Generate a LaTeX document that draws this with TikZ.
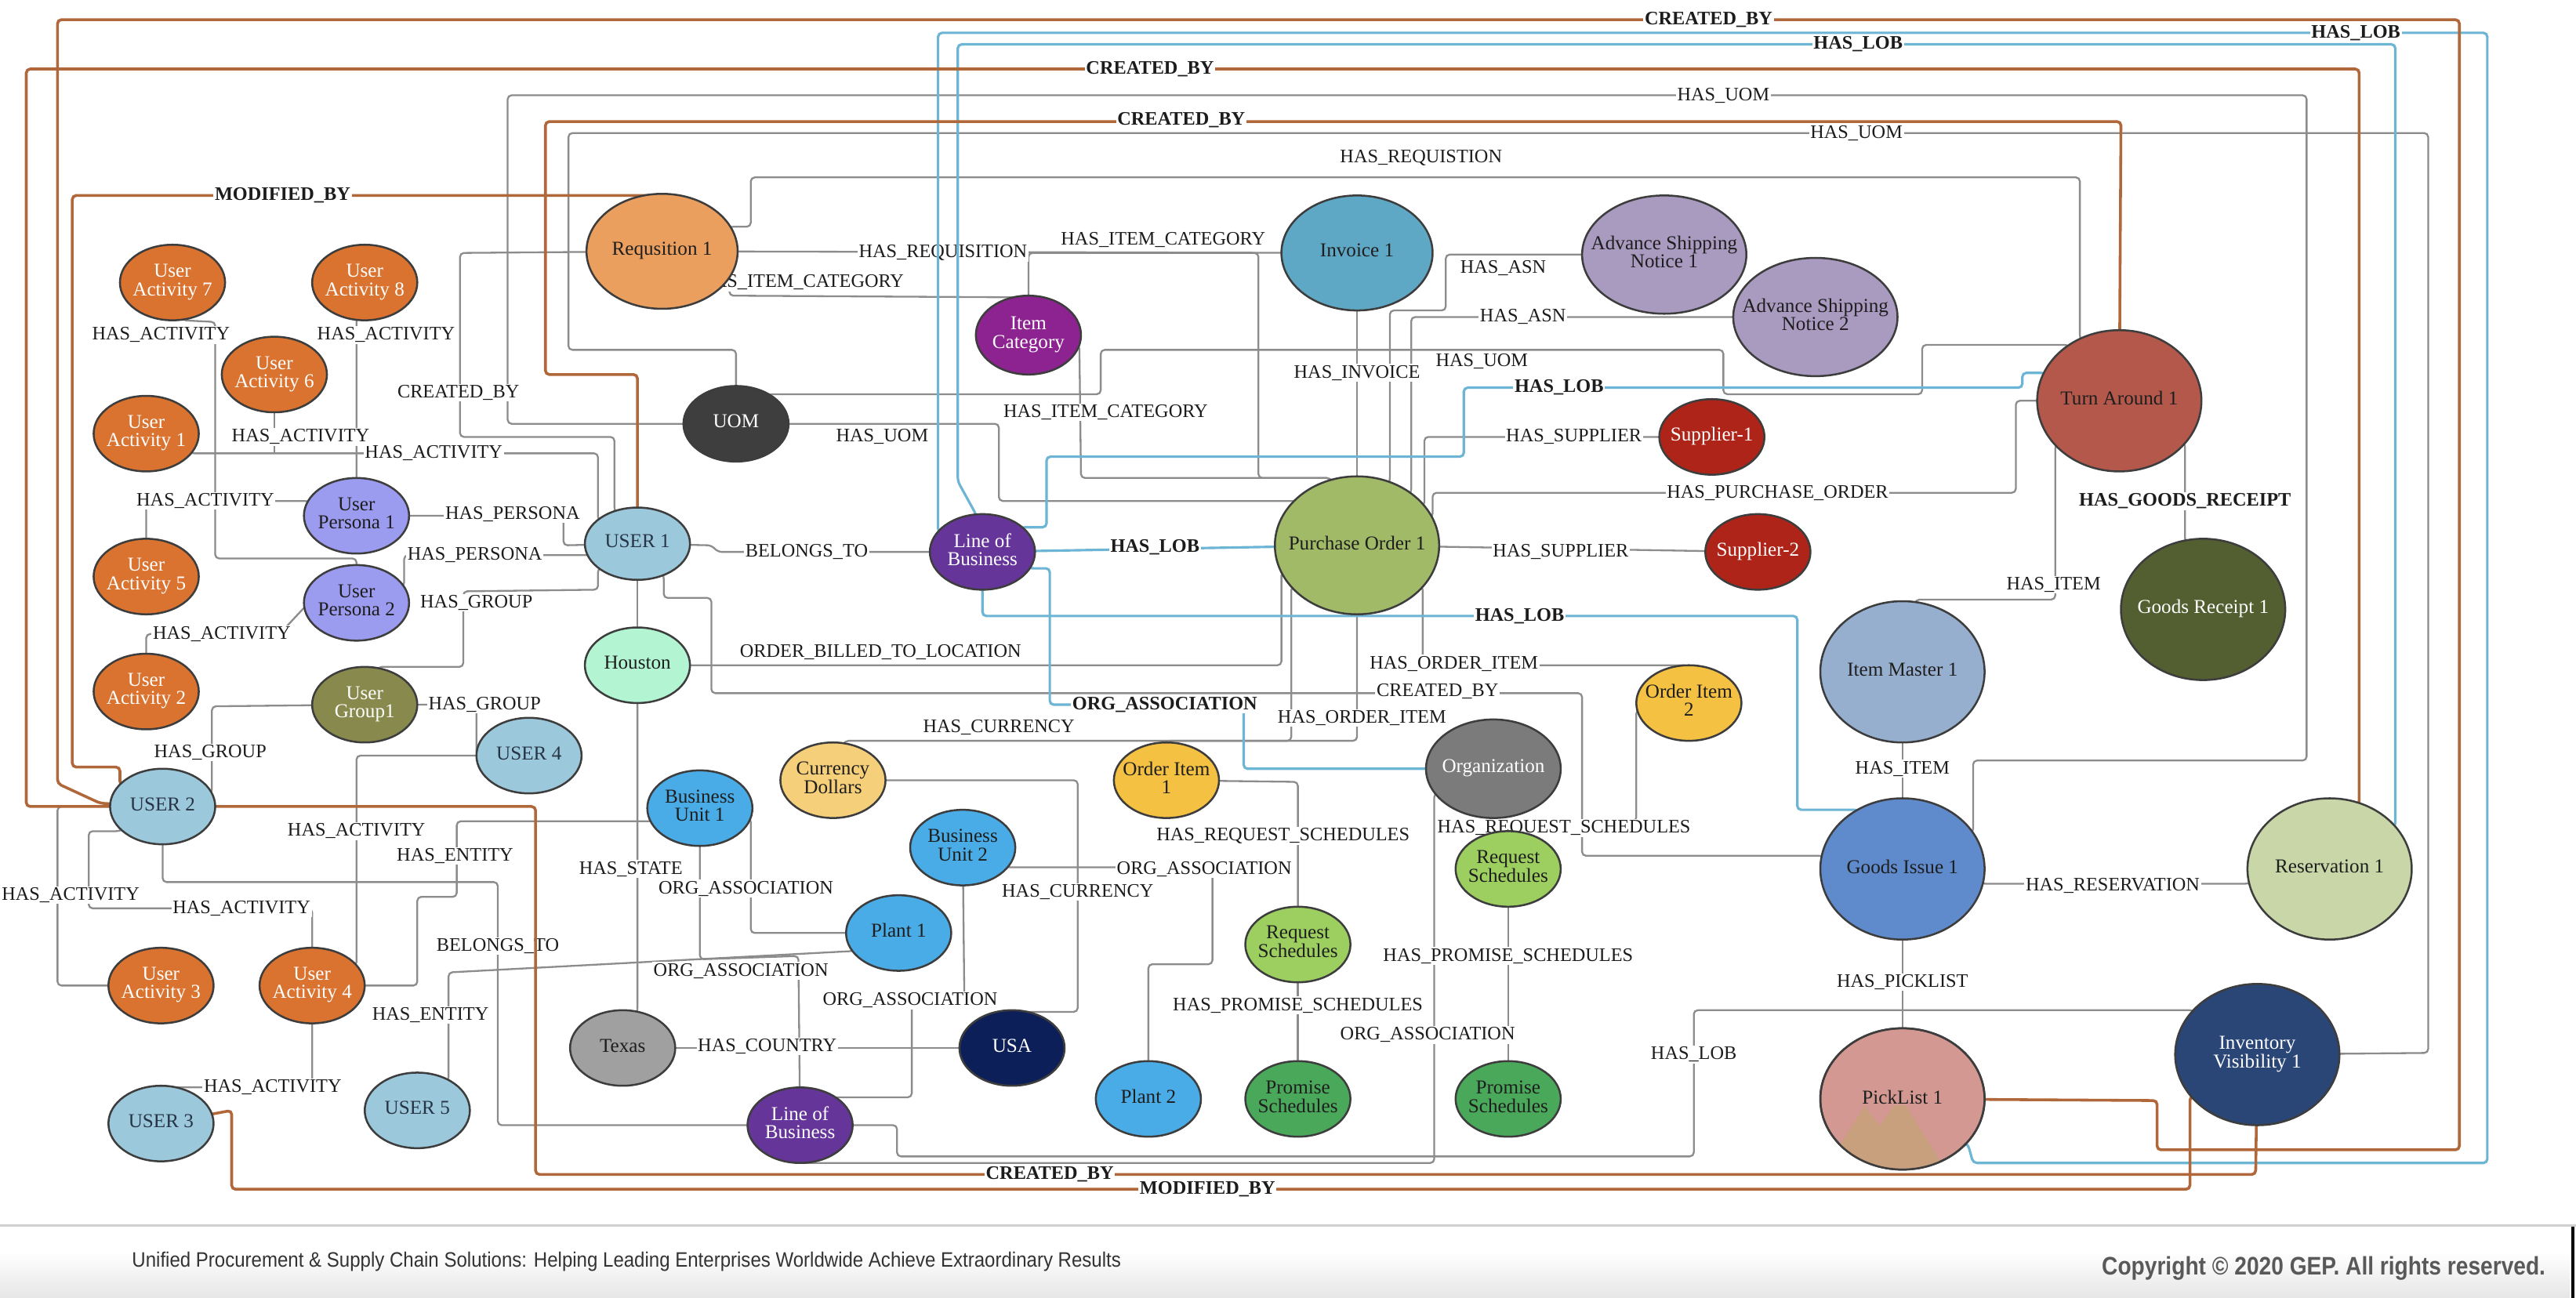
\documentclass[tikz,border=0pt]{standalone}
\usepackage{fontspec}
\setmainfont{Liberation Serif}
\newfontfamily\myFootfont{Liberation Sans}
\usetikzlibrary{shapes.geometric,backgrounds}
\definecolor{brn}{HTML}{B0673A}
\definecolor{blu}{HTML}{6DB5D5}
\definecolor{gry}{HTML}{8C8C8C}
\definecolor{ndline}{HTML}{3D3D3D}
\definecolor{lbtext}{HTML}{1C1C1C}
\definecolor{dkt}{HTML}{1E1E1E}
\definecolor{usrt}{HTML}{263445}
\definecolor{uaC}{HTML}{D9732F}
\definecolor{upC}{HTML}{9B9BF0}
\definecolor{userC}{HTML}{9CC8DC}
\definecolor{houC}{HTML}{B3F5D3}
\definecolor{ugC}{HTML}{878A4C}
\definecolor{reqC}{HTML}{EA9F5F}
\definecolor{uomC}{HTML}{3E3E3E}
\definecolor{icC}{HTML}{8C2391}
\definecolor{invC}{HTML}{5FA8C5}
\definecolor{asnC}{HTML}{A99AC0}
\definecolor{turnC}{HTML}{B3584B}
\definecolor{supC}{HTML}{AE2419}
\definecolor{poC}{HTML}{A1BA68}
\definecolor{lobC}{HTML}{65359A}
\definecolor{grC}{HTML}{535F30}
\definecolor{imC}{HTML}{97AFCF}
\definecolor{oiC}{HTML}{F4C142}
\definecolor{orgC}{HTML}{7B7B7B}
\definecolor{curC}{HTML}{F5CF79}
\definecolor{buC}{HTML}{4AACE6}
\definecolor{rsC}{HTML}{9DCF60}
\definecolor{psC}{HTML}{4AA85A}
\definecolor{giC}{HTML}{5F8ACC}
\definecolor{resC}{HTML}{C8D6A8}
\definecolor{texC}{HTML}{A0A0A0}
\definecolor{usaC}{HTML}{0C1F58}
\definecolor{ivC}{HTML}{2A4677}
\definecolor{pkC}{HTML}{D39891}
\definecolor{pktan}{HTML}{C8A07D}
\definecolor{footgray}{HTML}{D0D0D0}
\definecolor{foottext}{HTML}{333333}
\definecolor{copygray}{HTML}{595959}
\definecolor{shadeC}{HTML}{E6E6E6}
\newcommand{\myNfont}{\fontsize{6}{5.2}\selectfont}
\newcommand{\myLfont}{\fontsize{5.8}{6}\selectfont}
\newcommand{\ntx}[1]{\makebox[0pt]{\begin{tabular}{@{}c@{}}#1\end{tabular}}}
\begin{document}
\begin{tikzpicture}[x=0.5pt,y=-0.5pt,
  ndS/.style={ellipse, draw=ndline, line width=0.6pt, inner sep=0pt, minimum width=32pt, minimum height=23pt, font=\myNfont},
  ndB/.style={ndS, minimum width=50pt, minimum height=43pt},
  ndP/.style={ndS, minimum width=50pt, minimum height=42pt},
  ndM/.style={ndS, minimum width=46pt, minimum height=35pt},
  ndA/.style={ndS, minimum width=50pt, minimum height=36pt},
  ndO/.style={ndS, minimum width=41pt, minimum height=30pt},
  gline/.style={draw=gry, line width=0.55pt, rounded corners=1.2pt},
  bline/.style={draw=blu, line width=0.75pt, rounded corners=1.2pt},
  rline/.style={draw=brn, line width=0.85pt, rounded corners=1.2pt},
  lbN/.style={fill=white, inner sep=0.4pt, font=\myLfont, text=lbtext},
  lbB/.style={lbN, font=\myLfont\bfseries}]
\useasboundingbox (0,0) rectangle (1568,790);

% ---------------- nodes ----------------
\node[ndS, fill=uaC, text=white] (ua7) at (105,172) {\ntx{User\\Activity 7}};
\node[ndS, fill=uaC, text=white] (ua8) at (222,172) {\ntx{User\\Activity 8}};
\node[ndS, fill=uaC, text=white] (ua6) at (167,228) {\ntx{User\\Activity 6}};
\node[ndS, fill=uaC, text=white] (ua1) at (89,264) {\ntx{User\\Activity 1}};
\node[ndS, fill=upC, text=dkt] (up1) at (217,314) {\ntx{User\\Persona 1}};
\node[ndS, fill=uaC, text=white] (ua5) at (89,351) {\ntx{User\\Activity 5}};
\node[ndS, fill=upC, text=dkt] (up2) at (217,367) {\ntx{User\\Persona 2}};
\node[ndS, fill=uaC, text=white] (ua2) at (89,421) {\ntx{User\\Activity 2}};
\node[ndS, fill=ugC, text=white] (ug1) at (222,429) {\ntx{User\\Group1}};
\node[ndS, fill=userC, text=usrt] (user4) at (322,460) {\ntx{USER 4}};
\node[ndS, fill=userC, text=usrt] (user2) at (99,491) {\ntx{USER 2}};
\node[ndS, fill=userC, text=usrt, minimum height=22pt] (user1) at (388,331) {\ntx{USER 1}};
\node[ndS, fill=houC, text=dkt] (houston) at (388,405) {\ntx{Houston}};
\node[ndS, fill=uaC, text=white] (ua3) at (98,600) {\ntx{User\\Activity 3}};
\node[ndS, fill=uaC, text=white] (ua4) at (190,600) {\ntx{User\\Activity 4}};
\node[ndS, fill=userC, text=usrt] (user3) at (98,684) {\ntx{USER 3}};
\node[ndS, fill=userC, text=usrt] (user5) at (254,676) {\ntx{USER 5}};
\node[ndM, fill=reqC, text=dkt] (req) at (403,153) {\ntx{Requsition 1}};
\node[ndS, fill=uomC, text=white] (uom) at (448,258) {\ntx{UOM}};
\node[ndS, fill=icC, text=white, minimum height=24pt] (itemcat) at (626,204) {\ntx{Item\\Category}};
\node[ndM, fill=invC, text=dkt] (invoice) at (826,154) {\ntx{Invoice 1}};
\node[ndA, fill=asnC, text=dkt] (asn1) at (1013,155) {\ntx{Advance Shipping\\Notice 1}};
\node[ndA, fill=asnC, text=dkt] (asn2) at (1105,193) {\ntx{Advance Shipping\\Notice 2}};
\node[ndB, fill=turnC, text=dkt] (turn) at (1290,244) {\ntx{Turn Around 1}};
\node[ndS, fill=supC, text=white] (sup1) at (1042,266) {\ntx{Supplier-1}};
\node[ndS, fill=supC, text=white] (sup2) at (1070,336) {\ntx{Supplier-2}};
\node[ndP, fill=poC, text=dkt] (po) at (826,332) {\ntx{Purchase Order 1}};
\node[ndS, fill=lobC, text=white] (lob1) at (598,336) {\ntx{Line of\\Business}};
\node[ndB, fill=grC, text=white] (gr) at (1341,371) {\ntx{Goods Receipt 1}};
\node[ndB, fill=imC, text=dkt] (im) at (1158,409) {\ntx{Item Master 1}};
\node[ndS, fill=oiC, text=dkt] (oi2) at (1028,428) {\ntx{Order Item\\2}};
\node[ndO, fill=orgC, text=white] (org) at (909,468) {\ntx{Organization}};
\node[ndS, fill=curC, text=dkt] (curdol) at (507,475) {\ntx{Currency\\Dollars}};
\node[ndS, fill=oiC, text=dkt] (oi1) at (710,475) {\ntx{Order Item\\1}};
\node[ndS, fill=buC, text=dkt] (bu1) at (426,492) {\ntx{Business\\Unit 1}};
\node[ndS, fill=buC, text=dkt] (bu2) at (586,516) {\ntx{Business\\Unit 2}};
\node[ndS, fill=rsC, text=dkt] (rs1) at (918,529) {\ntx{Request\\Schedules}};
\node[ndB, fill=giC, text=dkt] (gi) at (1158,529) {\ntx{Goods Issue 1}};
\node[ndB, fill=resC, text=dkt] (res) at (1418,529) {\ntx{Reservation 1}};
\node[ndS, fill=buC, text=dkt] (plant1) at (547,568) {\ntx{Plant 1}};
\node[ndS, fill=rsC, text=dkt] (rs2) at (790,575) {\ntx{Request\\Schedules}};
\node[ndS, fill=texC, text=dkt] (texas) at (379,638) {\ntx{Texas}};
\node[ndS, fill=usaC, text=white] (usa) at (616,638) {\ntx{USA}};
\node[ndB, fill=ivC, text=white] (invvis) at (1374,642) {\ntx{Inventory\\Visibility 1}};
\node[ndS, fill=buC, text=dkt] (plant2) at (699,669) {\ntx{Plant 2}};
\node[ndS, fill=psC, text=dkt] (ps1) at (790,669) {\ntx{Promise\\Schedules}};
\node[ndS, fill=psC, text=dkt] (ps2) at (918,669) {\ntx{Promise\\Schedules}};
\node[ndS, fill=lobC, text=white] (lob2) at (487,685) {\ntx{Line of\\Business}};
\node[ndB, fill=pkC] (picklist) at (1158,669) {};
\begin{scope}
  \clip (picklist.center) ellipse [x radius=25pt, y radius=21.5pt];
  \fill[pktan] (1107,717) -- (1135,673.5) -- (1144,685.5) -- (1153,673) -- (1160,673) -- (1186,715) -- (1186,725) -- (1107,725) -- cycle;
\end{scope}
\draw[draw=ndline, line width=0.6pt] (picklist.center) ellipse [x radius=25pt, y radius=21.5pt];
\node[font=\myNfont, text=dkt, inner sep=0pt] (picktext) at (1158,668) {PickList 1};

% ---------------- footer ----------------
\draw[draw=footgray, line width=0.8pt] (0,746) -- (1568,746);
\draw[black, line width=0.8pt] (1566,747) -- (1566,790);
\node[anchor=west, inner sep=0pt, text=foottext] (foot) at (80,768) {\myFootfont\resizebox{301pt}{4.6pt}{Unified Procurement \& Supply Chain Solutions: Helping Leading Enterprises Worldwide Achieve Extraordinary Results}};
\node[anchor=west, inner sep=0pt, text=copygray] (copy) at (1279,772) {\myFootfont\bfseries\resizebox{135pt}{5.6pt}{Copyright © 2020 GEP. All rights reserved.}};

% ---------------- connectors ----------------
\begin{scope}[on background layer]
\fill[white] (0,0) rectangle (1568,790);
\shade[top color=white, bottom color=shadeC] (0,762) rectangle (1564,790);

% gray connectors
\draw[gline] (uom.center) -- (309,258) -- (309,58) -- (1404,58) -- (1404,463) -- (1201,463) -- (1201,507) -- (gi.center);
\draw[gline] (invvis.center) -- (1478,641) -- (1478,81) -- (346,81) -- (346,213) -- (448,213) -- (uom.center);
\draw[gline] (req.center) -- (445,138) -- (457,138) -- (457,108) -- (1266,108) -- (1266,206) -- (turn.center);
\draw[gline] (req.center) -- (280,154) -- (280,266) -- (374,266) -- (374,311) -- (user1.center);
\draw[gline] (req.center) -- (invoice.center);
\draw[gline] (po.center) -- (810,291) -- (766,291) -- (766,154) -- (626,154) -- (itemcat.center);
\draw[gline] (req.center) -- (444,169) -- (444,180) -- (618,181) -- (itemcat.center);
\draw[gline] (itemcat.center) -- (657,210) -- (658,291) -- (810,291) -- (po.center);
\draw[gline] (uom.center) -- (468,240) -- (670,240) -- (670,213) -- (1049,213) -- (1049,240) -- (1170,240) -- (1170,210) -- (1259,210) -- (turn.center);
\draw[gline] (uom.center) -- (608,258) -- (608,305) -- (788,305) -- (po.center);
\draw[gline] (invoice.center) -- (po.center);
\draw[gline] (asn1.center) -- (880,155) -- (880,189) -- (846,189) -- (846,293) -- (po.center);
\draw[gline] (asn2.center) -- (859,193) -- (859,300) -- (po.center);
\draw[gline] (po.center) -- (867,308) -- (867,266) -- (sup1.center);
\draw[gline] (po.center) -- (sup2.center);
\draw[gline] (turn.center) -- (1227,244) -- (1227,300) -- (872,300) -- (872,315) -- (po.center);
\draw[gline] (turn.center) -- (1330,270) -- (1330,329) -- (gr.center);
\draw[gline] (turn.center) -- (1251,271) -- (1251,365) -- (1166,365) -- (im.center);
\draw[gline] (im.center) -- (gi.center);
\draw[gline] (gi.center) -- (1207,538) -- (1368,538) -- (res.center);
\draw[gline] (gi.center) -- (picklist.center);
\draw[gline] (lob2.center) -- (546,685) -- (546,704) -- (1031,704) -- (1031,615) -- (1335,615) -- (invvis.center);
\draw[gline] (lob2.center) -- (487,708) -- (873,708) -- (873,483) -- (org.center);
\draw[gline] (houston.center) -- (780,405) -- (780,348) -- (po.center);
\draw[gline] (user1.center) -- (404,350) -- (404,364) -- (433,364) -- (433,422) -- (963,422) -- (963,521) -- (1109,521) -- (gi.center);
\draw[gline] (po.center) -- (866,357) -- (866,405) -- (1027,405) -- (oi2.center);
\draw[gline] (po.center) -- (826,451) -- (710,451) -- (oi1.center);
\draw[gline] (po.center) -- (786,357) -- (786,451) -- (514,451) -- (curdol.center);
\draw[gline] (user1.center) -- (433,332) -- (437,336) -- (lob1.center);
\draw[gline] (user1.center) -- (houston.center);
\draw[gline] (houston.center) -- (388,616) -- (texas.center);
\draw[gline] (texas.center) -- (usa.center);
\draw[gline] (curdol.center) -- (656,475) -- (656,616) -- (620,616) -- (usa.center);
\draw[gline] (bu2.center) -- (613,528) -- (738,528) -- (738,587) -- (699,587) -- (plant2.center);
\draw[gline] (oi1.center) -- (790,476) -- (rs2.center);
\draw[gline] (rs2.center) -- (ps1.center);
\draw[gline] (oi2.center) -- (996,432) -- (996,500) -- (918,500) -- (rs1.center);
\draw[gline] (rs1.center) -- (ps2.center);
\draw[gline] (bu1.center) -- (457,498) -- (457,568) -- (plant1.center);
\draw[gline] (bu1.center) -- (426,584) -- (486,582) -- (lob2.center);
\draw[gline] (user5.center) -- (273,658) -- (273,592) -- (519,579) -- (plant1.center);
\draw[gline] (bu2.center) -- (587,609) -- (555,609) -- (555,668) -- (508,668) -- (lob2.center);
\draw[gline] (ua4.center) -- (254,600) -- (254,546) -- (278,546) -- (278,500) -- (396,500) -- (bu1.center);
\draw[gline] (user2.center) -- (99,537) -- (303,537) -- (303,685) -- (lob2.center);
\draw[gline] (user3.center) -- (104,662) -- (190,662) -- (ua4.center);
\draw[gline] (user2.center) -- (73,506) -- (54,506) -- (54,553) -- (190,553) -- (ua4.center);
\draw[gline] (user2.center) -- (35,491) -- (35,600) -- (ua3.center);
\draw[gline] (user4.center) -- (217,460) -- (217,588) -- (ua4.center);
\draw[gline] (ug1.center) -- (290,429) -- (290,460) -- (user4.center);
\draw[gline] (ug1.center) -- (129,430) -- (129,483) -- (user2.center);
\draw[gline] (user1.center) -- (364,346) -- (364,359) -- (282,360) -- (282,406) -- (230,406) -- (ug1.center);
\draw[gline] (ua1.center) -- (116,276) -- (364,276) -- (364,317) -- (user1.center);
\draw[gline] (ua6.center) -- (167,276);
\draw[gline] (ua7.center) -- (111,195) -- (131,196) -- (131,340) -- (217,340) -- (up2.center);
\draw[gline] (ua8.center) -- (217,194) -- (up1.center);
\draw[gline] (up1.center) -- (343,314) -- (343,332) -- (user1.center);
\draw[gline] (up2.center) -- (246,357) -- (246,338) -- (359,338) -- (user1.center);
\draw[gline] (ua5.center) -- (89,305) -- (187,305) -- (up1.center);
\draw[gline] (up2.center) -- (186,369) -- (172,384) -- (89,386) -- (ua2.center);

% gray labels
\node[lbN] (g1) at (1049,58) {HAS\_UOM};
\node[lbN] (g2) at (1130,81) {HAS\_UOM};
\node[lbN] (g3) at (865,96) {HAS\_REQUISTION};
\node[lbN] (g4) at (279,239) {CREATED\_BY};
\node[lbN] (g5) at (574,154) {HAS\_REQUISITION};
\node[lbN] (g6) at (708,146) {HAS\_ITEM\_CATEGORY};
\node[lbN] (g7) at (488,172) {HAS\_ITEM\_CATEGORY};
\node[lbN] (g8) at (673,251) {HAS\_ITEM\_CATEGORY};
\node[lbN] (g9) at (902,220) {HAS\_UOM};
\node[lbN] (g10) at (537,266) {HAS\_UOM};
\node[lbN] (g11) at (826,227) {HAS\_INVOICE};
\node[lbN] (g12) at (915,163) {HAS\_ASN};
\node[lbN] (g13) at (927,193) {HAS\_ASN};
\node[lbN] (g14) at (958,266) {HAS\_SUPPLIER};
\node[lbN] (g15) at (950,336) {HAS\_SUPPLIER};
\node[lbN] (g16) at (1082,300) {HAS\_PURCHASE\_ORDER};
\node[lbB] (g17) at (1330,305) {HAS\_GOODS\_RECEIPT};
\node[lbN] (g18) at (1250,356) {HAS\_ITEM};
\node[lbN] (g19) at (1158,468) {HAS\_ITEM};
\node[lbN] (g20) at (1286,539) {HAS\_RESERVATION};
\node[lbN] (g21) at (1158,598) {HAS\_PICKLIST};
\node[lbN] (g22) at (1031,642) {HAS\_LOB};
\node[lbN] (g23) at (869,630) {ORG\_ASSOCIATION};
\node[lbN] (g24) at (536,397) {ORDER\_BILLED\_TO\_LOCATION};
\node[lbN] (g25) at (875,421) {CREATED\_BY};
\node[lbN] (g26) at (885,404) {HAS\_ORDER\_ITEM};
\node[lbN] (g27) at (829,437) {HAS\_ORDER\_ITEM};
\node[lbN] (g28) at (608,443) {HAS\_CURRENCY};
\node[lbN] (g29) at (491,336) {BELONGS\_TO};
\node[lbN] (g30) at (384,529) {HAS\_STATE};
\node[lbN] (g31) at (467,637) {HAS\_COUNTRY};
\node[lbN] (g32) at (656,543) {HAS\_CURRENCY};
\node[lbN] (g33) at (733,529) {ORG\_ASSOCIATION};
\node[lbN] (g34) at (781,509) {HAS\_REQUEST\_SCHEDULES};
\node[lbN] (g35) at (790,612) {HAS\_PROMISE\_SCHEDULES};
\node[lbN] (g36) at (952,504) {HAS\_REQUEST\_SCHEDULES};
\node[lbN] (g37) at (918,582) {HAS\_PROMISE\_SCHEDULES};
\node[lbN] (g38) at (454,541) {ORG\_ASSOCIATION};
\node[lbN] (g39) at (451,591) {ORG\_ASSOCIATION};
\node[lbN] (g40) at (554,609) {ORG\_ASSOCIATION};
\node[lbN] (g41) at (262,618) {HAS\_ENTITY};
\node[lbN] (g42) at (277,521) {HAS\_ENTITY};
\node[lbN] (g43) at (303,576) {BELONGS\_TO};
\node[lbN] (g44) at (166,662) {HAS\_ACTIVITY};
\node[lbN] (g45) at (147,553) {HAS\_ACTIVITY};
\node[lbN] (g46) at (43,545) {HAS\_ACTIVITY};
\node[lbN] (g47) at (217,506) {HAS\_ACTIVITY};
\node[lbN] (g48) at (295,429) {HAS\_GROUP};
\node[lbN] (g49) at (128,458) {HAS\_GROUP};
\node[lbN] (g50) at (290,367) {HAS\_GROUP};
\node[lbN] (g51) at (264,276) {HAS\_ACTIVITY};
\node[lbN] (g52) at (183,266) {HAS\_ACTIVITY};
\node[lbN] (g53) at (98,204) {HAS\_ACTIVITY};
\node[lbN] (g54) at (235,204) {HAS\_ACTIVITY};
\node[lbN] (g55) at (312,313) {HAS\_PERSONA};
\node[lbN] (g56) at (289,338) {HAS\_PERSONA};
\node[lbN] (g57) at (125,305) {HAS\_ACTIVITY};
\node[lbN] (g58) at (135,386) {HAS\_ACTIVITY};

% blue connectors
\draw[bline] (lob1.center) -- (571,324) -- (571,20) -- (1514,20) -- (1514,708) -- (1201,708) -- (1198,697) -- (picklist.center);
\draw[bline] (lob1.center) -- (594,313) -- (583,293) -- (583,27) -- (1458,27) -- (1458,503) -- (res.center);
\draw[bline] (lob1.center) -- (622,321) -- (637,321) -- (637,278) -- (891,278) -- (891,236) -- (1231,236) -- (1231,227) -- (1244,227) -- (turn.center);
\draw[bline] (lob1.center) -- (po.center);
\draw[bline] (lob1.center) -- (627,346) -- (639,346) -- (639,429) -- (757,429) -- (757,468) -- (org.center);
\draw[bline] (lob1.center) -- (598,375) -- (1094,375) -- (1094,493) -- (1131,493) -- (gi.center);

% brown connectors
\draw[rline] (user2.center) -- (61,489) -- (35,477) -- (35,12) -- (1497,12) -- (1497,700) -- (1313,700) -- (1313,670) -- (picklist.center);
\draw[rline] (user2.center) -- (16,491) -- (16,42) -- (1436,42) -- (1436,489) -- (res.center);
\draw[rline] (req.center) -- (400,119) -- (44,119) -- (44,467) -- (73,467) -- (73,478) -- (user2.center);
\draw[rline] (user1.center) -- (388,228) -- (332,228) -- (332,74) -- (1291,74) -- (turn.center);
\draw[rline] (user2.center) -- (326,491) -- (326,715) -- (1373,715) -- (invvis.center);
\draw[rline] (user3.center) -- (141,676) -- (141,724) -- (1333,724) -- (1333,668) -- (invvis.center);

% blue / brown labels
\node[lbB] (b1) at (1040,12) {CREATED\_BY};
\node[lbB] (b2) at (1434,20) {HAS\_LOB};
\node[lbB] (b3) at (1131,27) {HAS\_LOB};
\node[lbB] (b4) at (700,42) {CREATED\_BY};
\node[lbB] (b5) at (719,73) {CREATED\_BY};
\node[lbB] (b6) at (172,119) {MODIFIED\_BY};
\node[lbB] (b7) at (949,236) {HAS\_LOB};
\node[lbB] (b8) at (703,333) {HAS\_LOB};
\node[lbB] (b9) at (709,429) {ORG\_ASSOCIATION};
\node[lbB] (b10) at (925,375) {HAS\_LOB};
\node[lbB] (b11) at (639,715) {CREATED\_BY};
\node[lbB] (b12) at (735,724) {MODIFIED\_BY};
\end{scope}
\end{tikzpicture}
\end{document}
